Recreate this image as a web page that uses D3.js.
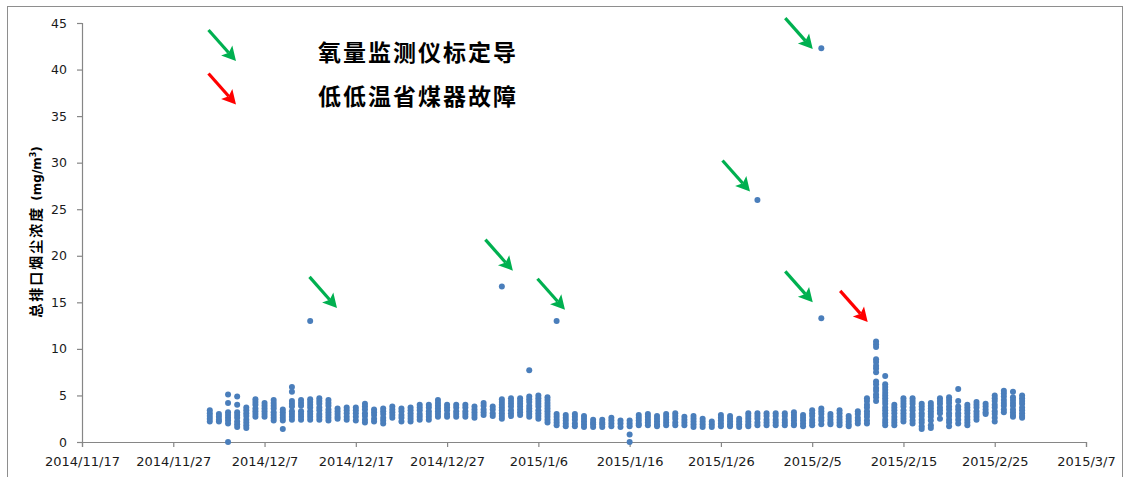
<!DOCTYPE html>
<html>
<head>
<meta charset="utf-8">
<script src="https://cdn.jsdelivr.net/npm/d3@7"></script>
<style>
  body { margin: 0; background: #fff; }
  svg { display: block; }
</style>
</head>
<body>
<svg id="chart" width="1130" height="477"></svg>
<script>
// Hourly dust concentration readings (mg/m3) per day, one inner array per day of month.
const dec2014 = [
  [3.4, 3.1, 2.8, 2.5, 2.2],
  [3.0, 2.7, 2.4, 2.2],
  [5.1, 4.2, 3.2, 2.9, 2.6, 2.3, 2.0, 0],
  [4.9, 4.0, 3.2, 2.9, 2.6, 2.2, 1.9, 1.6],
  [3.7, 3.4, 3.1, 2.8, 2.4, 2.1, 1.8, 1.5],
  [4.6, 4.3, 4.0, 3.6, 3.3, 3.0, 2.7],
  [4.2, 3.9, 3.6, 3.3, 3.0, 2.7],
  [4.5, 4.2, 3.9, 3.6, 3.2, 2.9, 2.6, 2.3],
  [3.5, 3.2, 2.9, 2.6, 2.3, 1.4],
  [5.9, 5.4, 4.4, 4.1, 3.8, 3.3, 3.0, 2.7, 2.4],
  [4.5, 4.2, 3.9, 3.3, 3.0, 2.7, 2.4],
  [13.0, 4.6, 4.3, 4.0, 3.7, 3.3, 3.0, 2.7, 2.4],
  [4.7, 4.4, 4.1, 3.7, 3.4, 3.0, 2.7, 2.4],
  [4.5, 4.2, 3.9, 3.5, 3.2, 2.9, 2.6, 2.3],
  [3.6, 3.3, 3.0, 2.7, 2.5],
  [3.7, 3.4, 3.1, 2.7, 2.4],
  [3.7, 3.4, 3.1, 2.7, 2.3],
  [4.1, 3.8, 3.5, 3.1, 2.8, 2.4, 2.1],
  [3.5, 3.2, 2.9, 2.5, 2.2],
  [3.6, 3.3, 3.0, 2.6, 2.3, 2.0],
  [3.8, 3.5, 3.2, 2.9, 2.6],
  [3.6, 3.3, 2.9, 2.6, 2.2],
  [3.7, 3.4, 3.1, 2.8, 2.5, 2.2],
  [4.0, 3.7, 3.4, 3.0, 2.7, 2.4],
  [4.0, 3.7, 3.3, 3.0, 2.7, 2.4],
  [4.5, 4.2, 3.9, 3.6, 3.3, 3.0, 2.7],
  [4.0, 3.7, 3.4, 3.0, 2.7],
  [4.0, 3.7, 3.3, 3.0, 2.7],
  [4.0, 3.7, 3.3, 3.0, 2.7],
  [3.8, 3.5, 3.2, 2.9, 2.6],
  [4.2, 3.9, 3.5, 3.2, 2.9]
];

const jan2015 = [
  [3.8, 3.5, 3.1, 2.8],
  [16.7, 4.6, 4.3, 4.0, 3.7, 3.4, 3.1, 2.8, 2.5],
  [4.7, 4.4, 4.1, 3.8, 3.4, 3.1, 2.8],
  [4.7, 4.4, 4.1, 3.8, 3.5, 3.2, 2.9],
  [7.7, 4.9, 4.6, 4.3, 3.9, 3.6, 3.3, 3.0, 2.7],
  [5.0, 4.7, 4.4, 4.1, 3.8, 3.4, 3.1, 2.8, 2.5],
  [4.8, 4.5, 4.2, 3.9, 3.6, 3.3, 3.0, 2.7, 2.4, 2.1],
  [13.0, 3.0, 2.7, 2.4, 2.1, 1.8],
  [2.9, 2.6, 2.3, 2.0, 1.7],
  [3.0, 2.7, 2.4, 2.0, 1.7],
  [2.8, 2.5, 2.2, 1.9, 1.6],
  [2.4, 2.1, 1.9, 1.6],
  [2.4, 2.1, 1.9, 1.6],
  [2.6, 2.3, 2.0, 1.7],
  [2.3, 2.0, 1.6],
  [2.3, 2.0, 1.7, 0.8, 0],
  [2.9, 2.6, 2.3, 2.0, 1.8],
  [3.0, 2.7, 2.4, 2.1, 1.8],
  [2.8, 2.5, 2.2, 1.9, 1.7],
  [3.0, 2.7, 2.4, 2.1, 1.8],
  [3.1, 2.8, 2.5, 2.1, 1.8],
  [2.7, 2.4, 2.1, 1.8],
  [2.8, 2.5, 2.2, 1.9, 1.6],
  [2.5, 2.2, 1.9, 1.6],
  [2.2, 1.9, 1.6],
  [2.9, 2.6, 2.3, 2.0, 1.7],
  [2.8, 2.5, 2.2, 1.9, 1.7],
  [2.5, 2.2, 1.9, 1.6],
  [3.1, 2.8, 2.5, 2.2, 1.9, 1.7],
  [26.0, 3.1, 2.8, 2.5, 2.1, 1.8],
  [3.1, 2.8, 2.4, 2.1, 1.8]
];

const feb2015 = [
  [3.1, 2.8, 2.4, 2.1, 1.8],
  [3.1, 2.8, 2.4, 2.1, 1.8],
  [3.2, 2.9, 2.6, 2.3, 2.0, 1.8],
  [2.9, 2.6, 2.3, 2.0, 1.7],
  [3.4, 3.1, 2.8, 2.4, 2.1, 1.8],
  [42.3, 13.3, 3.6, 3.3, 3.0, 2.6, 2.3, 1.9],
  [3.0, 2.7, 2.4, 2.1, 1.9],
  [3.4, 3.1, 2.7, 2.4, 2.1, 1.8],
  [2.8, 2.5, 2.2, 1.9, 1.7],
  [3.3, 3.0, 2.6, 2.3, 2.0],
  [4.7, 4.4, 4.0, 3.7, 3.3, 3.0, 2.7, 2.3, 2.0],
  [10.8, 10.5, 10.2, 8.9, 8.6, 8.2, 7.9, 7.5, 6.5, 6.2, 5.8, 5.5, 5.1, 4.8, 4.4],
  [7.1, 6.2, 5.9, 5.6, 5.3, 5.0, 4.7, 4.4, 4.1, 3.7, 3.4, 3.1, 2.8, 2.4, 2.1, 1.8],
  [4.0, 3.7, 3.4, 3.1, 2.7, 2.4, 2.1, 1.8],
  [4.7, 4.4, 4.1, 3.8, 3.4, 3.1, 2.8, 2.5, 2.2],
  [4.7, 4.4, 4.1, 3.7, 3.4, 3.0, 2.7, 2.3, 2.0],
  [4.1, 3.8, 3.5, 3.1, 2.8, 2.4, 2.1, 1.7, 1.4],
  [4.2, 3.9, 3.6, 3.3, 3.0, 2.7, 2.3, 1.8, 1.5],
  [4.7, 4.4, 4.1, 3.7, 3.4, 3.1, 2.5],
  [4.8, 4.5, 4.2, 3.8, 3.5, 3.1, 2.8, 2.4, 2.1, 1.7],
  [5.7, 4.4, 3.8, 3.5, 3.1, 2.8, 2.4, 2.0],
  [4.0, 3.7, 3.4, 3.1, 2.7, 2.4, 2.1, 1.8],
  [4.3, 4.0, 3.7, 3.3, 3.0, 2.7, 2.4],
  [4.1, 3.8, 3.5, 3.2, 3.0],
  [5.0, 4.7, 4.4, 4.0, 3.7, 3.3, 3.0, 2.6, 2.2],
  [5.5, 5.2, 4.9, 4.5, 4.2, 3.9, 3.5, 3.2],
  [5.4, 4.8, 4.5, 4.2, 3.9, 3.5, 3.2, 2.9, 2.7],
  [5.0, 4.7, 4.4, 4.1, 3.7, 3.4, 3.1, 2.8, 2.6]
];

const months = [
  { start: "2014-12-01", days: dec2014 },
  { start: "2015-01-01", days: jan2015 },
  { start: "2015-02-01", days: feb2015 }
];

const xDomain = ["2014-11-17", "2015-03-07"];
const xTickDates = ["2014-11-17", "2014-11-27", "2014-12-07", "2014-12-17", "2014-12-27",
  "2015-01-06", "2015-01-16", "2015-01-26", "2015-02-05", "2015-02-15", "2015-02-25", "2015-03-07"];
const yTicks = [0, 5, 10, 15, 20, 25, 30, 35, 40, 45];

// Arrow annotations: tip position in (time, value); green = O2 analyser calibration, red = economiser fault.
const calibrationArrows = [
  ["2014-12-14 22:30", 14.4],
  ["2015-01-03 05:00", 18.4],
  ["2015-01-08 22:00", 14.2],
  ["2015-01-29 04:30", 26.9],
  ["2015-02-05 01:30", 42.2],
  ["2015-02-05 01:30", 15.0]
];
const faultArrows = [
  ["2015-02-11 02:00", 12.9]
];

const legendItems = [
  { label: "氧量监测仪标定导", color: "#00b050" },
  { label: "低低温省煤器故障", color: "#ff0000" }
];

const parseDay = d3.timeParse("%Y-%m-%d");
const parseTime = d3.timeParse("%Y-%m-%d %H:%M");

const points = [];
months.forEach(m => {
  const s = parseDay(m.start);
  m.days.forEach((vals, i) => {
    const date = d3.timeDay.offset(s, i);
    vals.forEach(v => points.push({ date, v }));
  });
});

const svg = d3.select("#chart");
const W = 1130, H = 477;
const plot = { left: 82, right: 1086, top: 23, bottom: 442 };

// chart frame
svg.append("rect")
  .attr("x", 7.5).attr("y", 6.5)
  .attr("width", 1115).attr("height", 490)
  .attr("fill", "#fff").attr("stroke", "#8e8e8e").attr("stroke-width", 1);

const x = d3.scaleTime().domain(xDomain.map(parseDay)).range([plot.left, plot.right]);
const y = d3.scaleLinear().domain([0, 45]).range([plot.bottom, plot.top]);

const axisColor = "#868686";

const gx = svg.append("g")
  .attr("transform", `translate(0,${plot.bottom})`)
  .call(d3.axisBottom(x)
    .tickValues(xTickDates.map(parseDay))
    .tickFormat(d3.timeFormat("%Y/%-m/%-d"))
    .tickSize(5).tickPadding(10));

const gy = svg.append("g")
  .attr("transform", `translate(${plot.left},0)`)
  .call(d3.axisLeft(y).tickValues(yTicks).tickSize(5).tickPadding(10));

[gx, gy].forEach(g => {
  g.select(".domain").attr("stroke", axisColor).attr("stroke-width", 1.2);
  g.selectAll(".tick line").attr("stroke", axisColor).attr("stroke-width", 1.2);
  g.selectAll(".tick text")
    .attr("fill", "#1a1a1a")
    .style("font-family", "'DejaVu Sans', sans-serif");
});
gx.selectAll(".tick text").style("font-size", "13px");
gy.selectAll(".tick text").style("font-size", "12.5px");

// y-axis title
const yTitle = svg.append("text")
  .attr("transform", `translate(41,232) rotate(-90)`)
  .attr("text-anchor", "middle")
  .style("font-family", "'Noto Sans CJK SC', sans-serif")
  .style("font-weight", "bold")
  .style("font-size", "14px")
  .attr("fill", "#000");
yTitle.append("tspan").style("letter-spacing", "2px").text("总排口烟尘浓度 ");
yTitle.append("tspan").style("font-family", "'DejaVu Sans', sans-serif").style("font-size", "12px").text("(mg/m");
yTitle.append("tspan").attr("dy", -5).style("font-family", "'DejaVu Sans', sans-serif").style("font-size", "8px").text("3");
yTitle.append("tspan").attr("dy", 5).style("font-family", "'DejaVu Sans', sans-serif").style("font-size", "12px").text(")");

// readings
svg.append("g")
  .selectAll("circle")
  .data(points)
  .join("circle")
  .attr("cx", d => x(d.date))
  .attr("cy", d => y(d.v))
  .attr("r", 3)
  .attr("fill", "#4a7ebb");

// arrow shape ending at (tx, ty), pointing down-right
const arrowVec = [27.5, 31];
function drawArrow(g, tx, ty, color) {
  const len = Math.hypot(arrowVec[0], arrowVec[1]);
  const ux = arrowVec[0] / len, uy = arrowVec[1] / len;
  const nx = -uy, ny = ux;
  const headLen = 14, headHalf = 7.5, notch = 3;
  const bx = tx - ux * headLen, by = ty - uy * headLen;
  g.append("line")
    .attr("x1", tx - arrowVec[0]).attr("y1", ty - arrowVec[1])
    .attr("x2", bx + ux * notch).attr("y2", by + uy * notch)
    .attr("stroke", color).attr("stroke-width", 3.2);
  const pts = [
    [tx, ty],
    [bx + nx * headHalf, by + ny * headHalf],
    [bx + ux * notch, by + uy * notch],
    [bx - nx * headHalf, by - ny * headHalf]
  ];
  g.append("polygon").attr("points", pts.map(p => p.join(",")).join(" ")).attr("fill", color);
}

const arrowLayer = svg.append("g");
calibrationArrows.forEach(([t, v]) => drawArrow(arrowLayer, x(parseTime(t)), y(v), legendItems[0].color));
faultArrows.forEach(([t, v]) => drawArrow(arrowLayer, x(parseTime(t)), y(v), legendItems[1].color));

// legend
const legend = svg.append("g").attr("transform", `translate(${plot.left + 154},61)`);
legendItems.forEach((item, i) => {
  const gy0 = i * 43.5;
  drawArrow(legend, 0, gy0, item.color);
  legend.append("text")
    .attr("x", 82).attr("y", gy0 - 10)
    .attr("dominant-baseline", "central")
    .style("font-family", "'Noto Sans CJK SC', sans-serif")
    .style("font-weight", "bold")
    .style("font-size", "23px")
    .style("letter-spacing", "2px")
    .attr("fill", "#000")
    .text(item.label);
});
</script>
</body>
</html>
